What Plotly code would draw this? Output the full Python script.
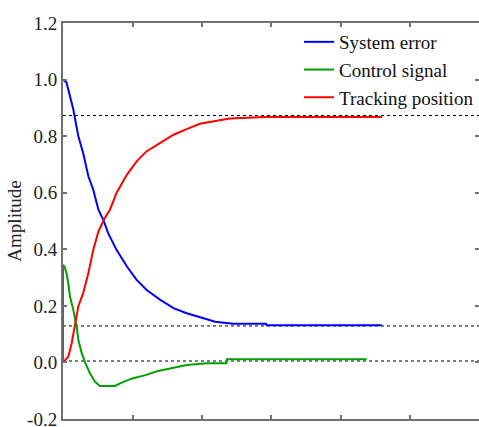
import plotly.graph_objects as go

# --- data ---
t_err = [0, 0.05, 0.148, 0.22, 0.29, 0.365, 0.436, 0.51, 0.58, 0.65, 0.77, 0.92,
         1.06, 1.20, 1.40, 1.59, 1.78, 1.97, 2.19, 2.45, 2.92, 2.93, 4.59]
err = [1.0, 0.99, 0.895, 0.80, 0.74, 0.658, 0.61, 0.54, 0.504, 0.457, 0.398, 0.339,
       0.292, 0.257, 0.221, 0.192, 0.174, 0.160, 0.144, 0.137, 0.137, 0.131, 0.131]

t_ctl = [0, 0, 0.02, 0.05, 0.076, 0.10, 0.148, 0.197, 0.22, 0.27, 0.317, 0.388,
         0.46, 0.53, 0.75, 0.82, 0.96, 1.01, 1.20, 1.37, 1.49, 1.78, 2.07, 2.35, 2.36, 4.37]
ctl = [0, 0.345, 0.34, 0.316, 0.28, 0.233, 0.186, 0.127, 0.08, 0.033, 0.0, -0.038,
       -0.068, -0.083, -0.083, -0.074, -0.06, -0.056, -0.044, -0.03, -0.024, -0.009,
       -0.003, -0.003, 0.011, 0.011]

t_pos = [0, 0.076, 0.125, 0.17, 0.22, 0.29, 0.365, 0.436, 0.51, 0.60, 0.676, 0.77,
         0.92, 1.06, 1.20, 1.40, 1.59, 1.78, 1.97, 2.09, 2.4, 2.9, 4.59]
pos = [0, 0.02, 0.068, 0.127, 0.198, 0.245, 0.316, 0.398, 0.463, 0.51, 0.54, 0.599,
       0.664, 0.711, 0.746, 0.776, 0.805, 0.825, 0.844, 0.849, 0.862, 0.868, 0.868]

ref_levels = [0.873, 0.129, 0.005]

series_names = ["System error", "Control signal", "Tracking position"]
series_colors = ["#0000ff", "#00a000", "#ff0000"]

y_ticks = [-0.2, 0.0, 0.2, 0.4, 0.6, 0.8, 1.0, 1.2]
y_tick_text = ["-0.2", "0.0", "0.2", "0.4", "0.6", "0.8", "1.0", "1.2"]

fig = go.Figure()

for lvl in ref_levels:
    fig.add_hline(y=lvl, line=dict(color="black", width=1, dash="dot"), layer="below")

for (xs, ys), name, col in zip([(t_err, err), (t_ctl, ctl), (t_pos, pos)],
                               series_names, series_colors):
    fig.add_trace(go.Scatter(x=xs, y=ys, mode="lines", name=name,
                             line=dict(color=col, width=2)))

font_family = "Liberation Serif, Times New Roman, serif"
axis_col = "#707070"

fig.update_layout(
    width=479, height=427,
    margin=dict(l=63, r=0, t=23, b=8, autoexpand=False),
    paper_bgcolor="white", plot_bgcolor="white",
    font=dict(family=font_family, size=19, color="#222222"),
    showlegend=True,
    hovermode=False,
    legend=dict(x=1.0, y=1.0, xanchor="right", yanchor="top",
                bgcolor="rgba(0,0,0,0)", borderwidth=0,
                font=dict(family=font_family, size=19, color="#111111"),
                tracegroupgap=0),
)
fig.update_xaxes(range=[0, 5.986], dtick=1, tick0=0, showticklabels=False,
                 ticks="inside", ticklen=4, tickwidth=2, tickcolor=axis_col,
                 showline=True, linecolor=axis_col, linewidth=2, mirror="ticks",
                 showgrid=False, zeroline=False)
fig.update_yaxes(range=[-0.2, 1.2], tickvals=y_ticks, ticktext=y_tick_text,
                 ticks="inside", ticklen=4, tickwidth=2, tickcolor=axis_col,
                 showline=True, linecolor=axis_col, linewidth=2, mirror="ticks",
                 showgrid=False, zeroline=False, ticklabelstandoff=0,
                 ticklabeloverflow="allow",
                 title=dict(text="Amplitude", standoff=0,
                            font=dict(family=font_family, size=19)))

fig.write_html(
    "out.html",
    config={"displayModeBar": False},
    post_script="document.body.style.margin='0';document.body.style.overflow='hidden';",
)
